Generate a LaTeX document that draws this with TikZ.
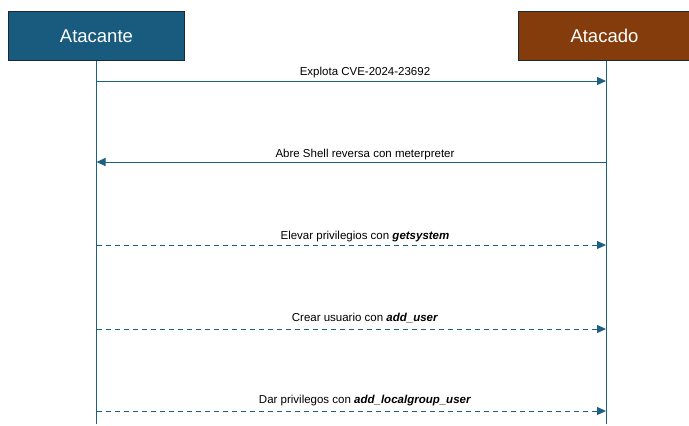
\documentclass[tikz,border=0pt]{standalone}
\usepackage{fontspec}
\setmainfont{Liberation Sans}
\usetikzlibrary{arrows.meta}
\definecolor{lineblue}{HTML}{1F5F80}
\definecolor{boxblue}{HTML}{195B7E}
\definecolor{boxbrown}{HTML}{843C0C}
\definecolor{edgedark}{HTML}{1A2A33}
\tikzset{
  actor/.style={draw=edgedark, line width=0.9pt, minimum height=49pt, inner sep=0pt,
    text=white, font=\fontsize{18.5}{21}\selectfont, anchor=north west},
  life/.style={lineblue, line width=1pt},
  msg/.style={lineblue, line width=1pt, -{Triangle[length=9pt,width=8pt]}},
  msgd/.style={msg, dash pattern=on 5pt off 4pt},
  lbl/.style={font=\fontsize{11.5}{14}\selectfont, text=black, inner sep=0pt}
}
\begin{document}
\begin{tikzpicture}[x=1pt,y=1pt]
\useasboundingbox (0,0) rectangle (689,-426);
\node[actor, fill=boxblue, minimum width=176pt] (A) at (8,-11) {Atacante};
\node[actor, fill=boxbrown, minimum width=172pt] (B) at (518,-11) {Atacado};
\coordinate (Aend) at (96.5,-424);
\coordinate (Bend) at (606,-424);
\draw[life] (A.south -| Aend) -- (Aend);
\draw[life] (B.south -| Bend) -- (Bend);
\foreach \n/\y in {1/81,2/162,3/245,4/329,5/411}{
  \coordinate (a\n) at (96.5,-\y);
  \coordinate (b\n) at (606,-\y);
}
\draw[msg] (a1) -- (b1);
\draw[msg] (b2) -- (a2);
\draw[msgd] (a3) -- (b3);
\draw[msgd] (a4) -- (b4);
\draw[msgd] (a5) -- (b5);
\node[lbl] (l1) at (365,-72.5) {Explota CVE-2024-23692};
\node[lbl] (l2) at (365,-154.5) {Abre Shell reversa con meterpreter};
\node[lbl] (l3) at (365,-236.5) {Elevar privilegios con \textbf{\textit{getsystem}}};
\node[lbl] (l4) at (365,-318.5) {Crear usuario con \textbf{\textit{add\_user}}};
\node[lbl] (l5) at (365,-400.5) {Dar privilegos con \textbf{\textit{add\_localgroup\_user}}};
\end{tikzpicture}
\end{document}
